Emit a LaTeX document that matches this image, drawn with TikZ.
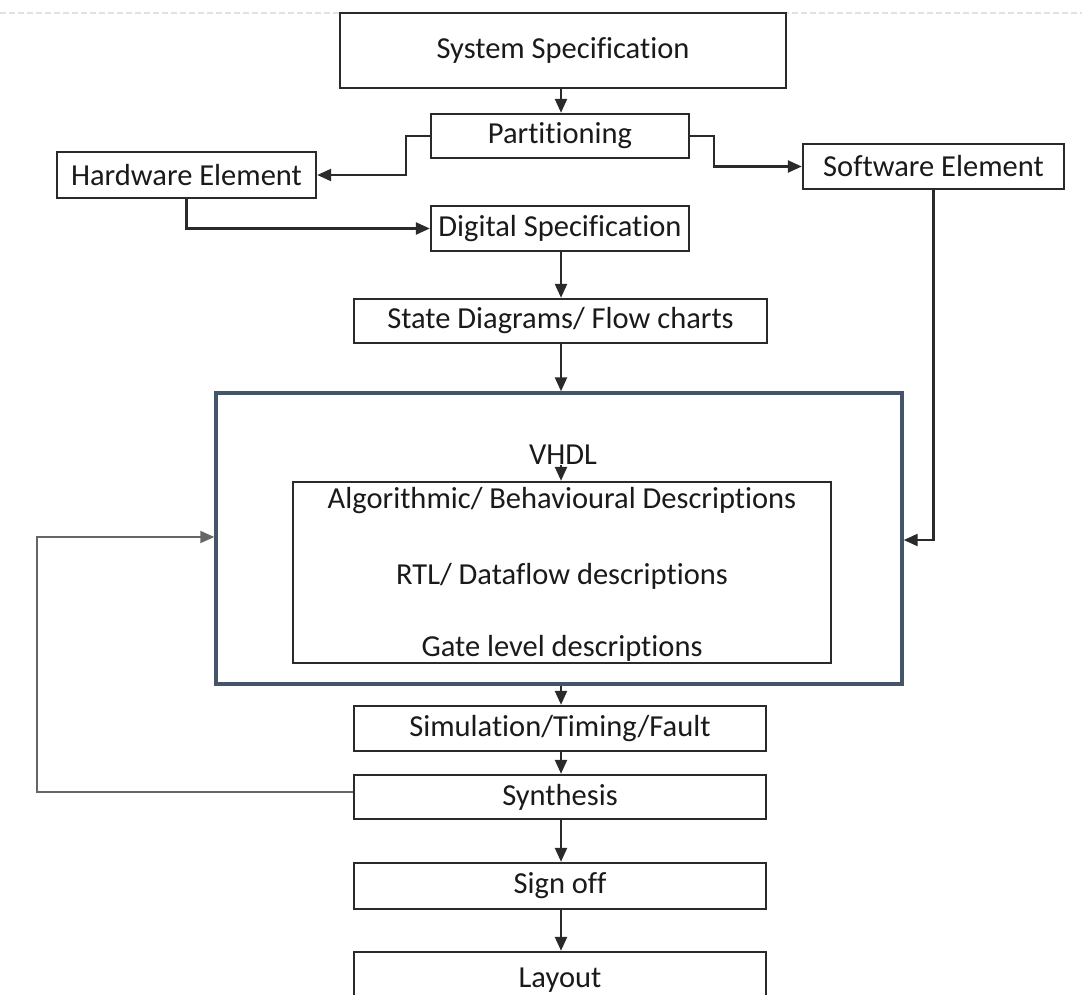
\documentclass[tikz,border=0pt]{standalone}
\usepackage{fontspec}
\setmainfont{Carlito}[RawFeature={-liga;-clig;-dlig}]
\usetikzlibrary{arrows.meta}
\definecolor{boxline}{HTML}{2A2A2A}
\definecolor{vhdlline}{HTML}{44546A}
\definecolor{loopline}{HTML}{666666}
\definecolor{guideline}{HTML}{E2E2E2}
\definecolor{txt}{HTML}{1A1A1A}
\begin{document}
\begin{tikzpicture}[x=1pt,y=-1pt,
  every node/.style={font=\fontsize{30.5}{36}\selectfont, text=txt, inner sep=0pt},
  stepbox/.style={draw=boxline, line width=2.4pt, fill=white, minimum width=#1, anchor=center},
  arr/.style={draw=boxline, line width=2.4pt, -{Triangle[length=14pt,width=12pt]}},
  looparr/.style={draw=loopline, line width=1.8pt, -{Triangle[length=14pt,width=12pt]}}]
\useasboundingbox (0,0) rectangle (1082,994);

% faint dashed guide along the top edge
\draw[guideline, line width=1.2pt, dash pattern=on 6pt off 3pt] (0,13) -- (1082,13);

% process boxes
\node[stepbox=446pt, minimum height=75pt] (sys) at (563,50.5) {System Specification};
\node[stepbox=258pt, minimum height=44pt] (part) at (560,136) {Partitioning};
\node[stepbox=259pt, minimum height=46pt] (hw) at (186.5,175) {Hardware Element};
\node[stepbox=261pt, minimum height=45pt] (sw) at (933.5,166.5) {Software Element};
\node[stepbox=258pt, minimum height=45pt] (dig) at (560,228.5) {Digital Specification};
\node[stepbox=413pt, minimum height=44pt] (state) at (560.5,321) {State Diagrams/ Flow charts};

% VHDL block with its inner description box
\node[draw=vhdlline, line width=3.4pt, minimum width=686pt, minimum height=291pt] (vhdl) at (559,538.5) {};
\node (vhdltxt) at (563,455) {VHDL};
\node[stepbox=538pt, minimum height=181pt] (inner) at (562,572.5) {};
\node (alg) at (562,501) {Algorithmic/ Behavioural Descriptions};
\node (rtl) at (562,576) {RTL/ Dataflow descriptions};
\node (gate) at (562,648) {Gate level descriptions};

\node[stepbox=412pt, minimum height=45pt] (sim) at (560,728.5) {Simulation/Timing/Fault};
\node[stepbox=412pt, minimum height=44pt] (syn) at (560,797) {Synthesis};
\node[stepbox=412pt, minimum height=46pt] (sign) at (560,886) {Sign off};
\node[stepbox=412pt, minimum height=56pt] (lay) at (560,980) {Layout};

\coordinate (loopout) at ([yshift=5pt]syn.west);
\coordinate (loopin) at ([yshift=1.5pt]vhdl.west);

% connectors
\draw[arr] (sys.south -| 561,0) -- (part.north -| 561,0);
\draw[arr] (part.west) -- ++(-24,0) |- (hw.east);
\draw[arr] (part.east) -- ++(24,0) |- (sw.west);
\draw[arr] (hw.south) |- (dig.west);
\draw[arr] (dig.south -| 561,0) -- (state.north -| 561,0);
\draw[arr] (state.south -| 561,0) -- (vhdl.north -| 561,0);
\draw[arr] (vhdltxt.south -| 561,0) -- (inner.north -| 561,0);
\draw[arr] (sw.south) |- ([yshift=-1.5pt]vhdl.east);
\draw[arr] (vhdl.south -| 561,0) -- (sim.north -| 561,0);
\draw[arr] (sim.south -| 561,0) -- (syn.north -| 561,0);
\draw[arr] (syn.south -| 561,0) -- (sign.north -| 561,0);
\draw[arr] (sign.south -| 561,0) -- (lay.north -| 561,0);
\draw[looparr] (loopout) -- (37,0 |- loopout) |- (loopin);
\end{tikzpicture}
\end{document}
